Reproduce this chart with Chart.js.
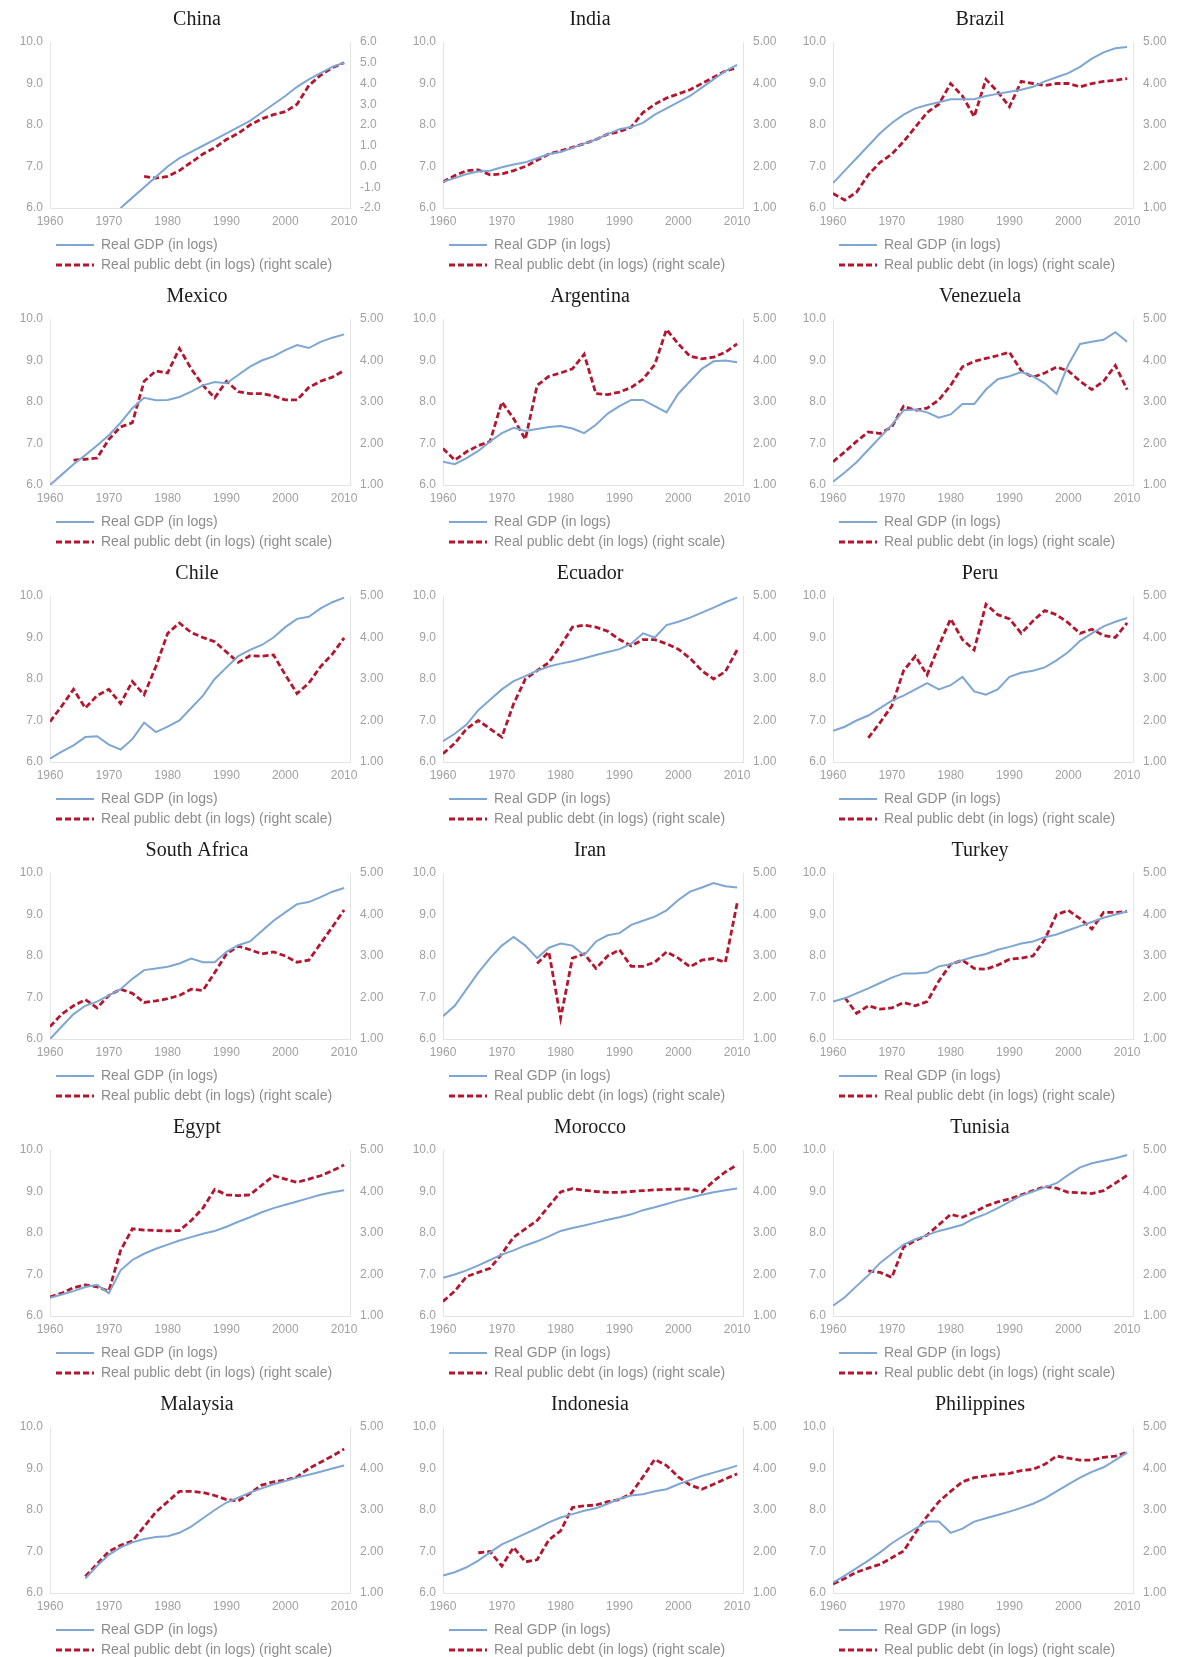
<!DOCTYPE html>
<html>
<head>
<meta charset="utf-8">
<script src="https://cdn.jsdelivr.net/npm/chart.js@4.4.1/dist/chart.umd.min.js"></script>
<style>
  html, body { margin: 0; padding: 0; background: #fff; }
  #page { position: relative; width: 1181px; height: 1657px; overflow: hidden; }
  .panel { position: absolute; width: 394px; height: 282px; }
</style>
</head>
<body>
<div id="page"></div>
<script>
const years = [1960, 1962, 1964, 1966, 1968, 1970, 1972, 1974, 1976, 1978, 1980, 1982, 1984,
  1986, 1988, 1990, 1992, 1994, 1996, 1998, 2000, 2002, 2004, 2006, 2008, 2010];
const yearTicks = [1960, 1970, 1980, 1990, 2000, 2010];
const leftTicks = [6, 7, 8, 9, 10];
const rightTicks = [1, 2, 3, 4, 5];
const chinaRightTicks = [-2, -1, 0, 1, 2, 3, 4, 5, 6];

const countries = ['China', 'India', 'Brazil', 'Mexico', 'Argentina', 'Venezuela',
  'Chile', 'Ecuador', 'Peru', 'South Africa', 'Iran', 'Turkey',
  'Egypt', 'Morocco', 'Tunisia', 'Malaysia', 'Indonesia', 'Philippines'];

const chinaGdp = [null, null, null, null, null, null, 6.0, 6.25, 6.5, 6.75, 7.0, 7.2, 7.35, 7.5, 7.65, 7.8, 7.95, 8.1, 8.3, 8.5, 8.7, 8.92, 9.1, 9.25, 9.4, 9.5];
const chinaDebt = [null, null, null, null, null, null, null, null, -0.48, -0.56, -0.48, -0.2, 0.2, 0.6, 0.9, 1.3, 1.6, 2.0, 2.3, 2.5, 2.64, 3.0, 3.9, 4.4, 4.76, 5.0];
const indiaGdp = [6.63, 6.72, 6.82, 6.88, 6.9, 6.98, 7.05, 7.1, 7.2, 7.3, 7.35, 7.45, 7.55, 7.65, 7.78, 7.9, 7.95, 8.05, 8.25, 8.4, 8.55, 8.7, 8.9, 9.1, 9.3, 9.45];
const indiaDebt = [1.63, 1.78, 1.9, 1.92, 1.8, 1.82, 1.9, 2.0, 2.15, 2.3, 2.38, 2.46, 2.55, 2.65, 2.78, 2.84, 2.95, 3.3, 3.5, 3.65, 3.75, 3.85, 4.0, 4.15, 4.3, 4.38];
const brazilGdp = [6.6, 6.9, 7.2, 7.5, 7.8, 8.05, 8.25, 8.4, 8.48, 8.55, 8.62, 8.62, 8.62, 8.7, 8.75, 8.8, 8.85, 8.92, 9.05, 9.15, 9.25, 9.4, 9.6, 9.75, 9.85, 9.88];
const brazilDebt = [1.35, 1.19, 1.38, 1.8, 2.1, 2.3, 2.6, 2.95, 3.3, 3.5, 4.0, 3.7, 3.2, 4.1, 3.8, 3.44, 4.05, 4.0, 3.95, 4.0, 4.0, 3.92, 4.0, 4.05, 4.08, 4.12];
const mexicoGdp = [6.0, 6.25, 6.5, 6.72, 6.95, 7.2, 7.5, 7.85, 8.1, 8.04, 8.05, 8.12, 8.25, 8.4, 8.48, 8.45, 8.65, 8.85, 9.0, 9.1, 9.25, 9.37, 9.3, 9.45, 9.55, 9.63];
const mexicoDebt = [null, null, 1.6, 1.62, 1.65, 2.1, 2.4, 2.5, 3.5, 3.75, 3.7, 4.29, 3.8, 3.4, 3.1, 3.5, 3.25, 3.2, 3.2, 3.15, 3.05, 3.05, 3.35, 3.5, 3.6, 3.76];
const argentinaGdp = [6.56, 6.5, 6.65, 6.82, 7.05, 7.25, 7.38, 7.3, 7.35, 7.4, 7.42, 7.36, 7.25, 7.45, 7.72, 7.9, 8.05, 8.05, 7.9, 7.75, 8.2, 8.5, 8.8, 8.98, 9.0, 8.96];
const argentinaDebt = [1.88, 1.6, 1.8, 1.95, 2.05, 3.0, 2.6, 2.1, 3.4, 3.62, 3.7, 3.8, 4.15, 3.2, 3.18, 3.24, 3.35, 3.55, 3.9, 4.75, 4.4, 4.1, 4.04, 4.08, 4.2, 4.4];
const venezuelaGdp = [6.08, 6.3, 6.55, 6.85, 7.15, 7.45, 7.8, 7.82, 7.75, 7.62, 7.7, 7.95, 7.95, 8.3, 8.55, 8.62, 8.72, 8.62, 8.45, 8.2, 8.9, 9.4, 9.45, 9.5, 9.68, 9.45];
const venezuelaDebt = [1.56, 1.8, 2.05, 2.28, 2.24, 2.4, 2.9, 2.8, 2.85, 3.05, 3.4, 3.85, 3.98, 4.05, 4.12, 4.2, 3.75, 3.6, 3.7, 3.84, 3.75, 3.5, 3.3, 3.5, 3.88, 3.3];
const chileGdp = [6.08, 6.25, 6.4, 6.6, 6.62, 6.42, 6.3, 6.55, 6.95, 6.72, 6.85, 7.0, 7.3, 7.6, 8.0, 8.28, 8.55, 8.7, 8.82, 9.0, 9.25, 9.45, 9.5, 9.7, 9.85, 9.96];
const chileDebt = [1.97, 2.35, 2.75, 2.3, 2.6, 2.75, 2.41, 2.94, 2.62, 3.3, 4.1, 4.35, 4.12, 4.0, 3.9, 3.65, 3.4, 3.56, 3.55, 3.58, 3.1, 2.65, 2.9, 3.3, 3.6, 3.99];
const ecuadorGdp = [6.5, 6.68, 6.9, 7.25, 7.5, 7.75, 7.95, 8.07, 8.2, 8.3, 8.37, 8.43, 8.5, 8.58, 8.65, 8.72, 8.85, 9.1, 9.0, 9.3, 9.38, 9.48, 9.6, 9.72, 9.85, 9.96];
const ecuadorDebt = [1.2, 1.45, 1.8, 2.0, 1.8, 1.6, 2.4, 3.0, 3.2, 3.4, 3.8, 4.25, 4.3, 4.25, 4.15, 3.95, 3.8, 3.95, 3.95, 3.85, 3.72, 3.5, 3.2, 3.0, 3.18, 3.7];
const peruGdp = [6.75, 6.85, 7.0, 7.12, 7.3, 7.48, 7.6, 7.75, 7.9, 7.75, 7.85, 8.05, 7.7, 7.62, 7.75, 8.05, 8.15, 8.2, 8.28, 8.45, 8.65, 8.92, 9.1, 9.27, 9.38, 9.47];
const peruDebt = [null, null, null, 1.58, 1.95, 2.35, 3.2, 3.55, 3.1, 3.8, 4.45, 3.95, 3.7, 4.8, 4.55, 4.45, 4.1, 4.4, 4.65, 4.55, 4.35, 4.1, 4.2, 4.05, 4.0, 4.35];
const southAfricaGdp = [6.0, 6.3, 6.6, 6.8, 6.9, 7.05, 7.2, 7.45, 7.66, 7.7, 7.74, 7.82, 7.94, 7.85, 7.85, 8.1, 8.26, 8.35, 8.6, 8.85, 9.05, 9.25, 9.3, 9.42, 9.55, 9.64];
const southAfricaDebt = [1.3, 1.6, 1.8, 1.95, 1.75, 2.05, 2.2, 2.1, 1.88, 1.92, 1.97, 2.05, 2.2, 2.17, 2.6, 3.05, 3.24, 3.15, 3.05, 3.1, 3.0, 2.85, 2.9, 3.3, 3.7, 4.11];
const iranGdp = [6.55, 6.8, 7.2, 7.6, 7.95, 8.25, 8.46, 8.25, 7.95, 8.2, 8.3, 8.25, 8.02, 8.35, 8.5, 8.55, 8.75, 8.85, 8.95, 9.1, 9.35, 9.55, 9.65, 9.76, 9.68, 9.65];
const iranDebt = [null, null, null, null, null, null, null, null, 2.82, 3.1, 1.5, 2.95, 3.05, 2.7, 3.0, 3.15, 2.75, 2.75, 2.85, 3.1, 2.95, 2.74, 2.9, 2.94, 2.85, 4.27];
const turkeyGdp = [6.9, 6.98, 7.1, 7.22, 7.35, 7.48, 7.58, 7.58, 7.6, 7.75, 7.8, 7.9, 7.98, 8.05, 8.15, 8.22, 8.3, 8.35, 8.45, 8.52, 8.62, 8.72, 8.82, 8.92, 9.0, 9.07];
const turkeyDebt = [null, 2.0, 1.62, 1.8, 1.72, 1.75, 1.88, 1.8, 1.9, 2.4, 2.8, 2.9, 2.7, 2.68, 2.78, 2.92, 2.95, 3.0, 3.4, 4.0, 4.1, 3.9, 3.65, 4.05, 4.05, 4.07];
const egyptGdp = [6.44, 6.52, 6.6, 6.7, 6.75, 6.55, 7.1, 7.35, 7.5, 7.62, 7.72, 7.82, 7.9, 7.98, 8.05, 8.15, 8.27, 8.38, 8.5, 8.6, 8.68, 8.76, 8.84, 8.92, 8.98, 9.03];
const egyptDebt = [1.46, 1.55, 1.68, 1.75, 1.7, 1.6, 2.58, 3.1, 3.07, 3.06, 3.05, 3.06, 3.3, 3.6, 4.05, 3.92, 3.9, 3.92, 4.15, 4.38, 4.3, 4.22, 4.3, 4.38, 4.5, 4.64];
const moroccoGdp = [6.92, 7.0, 7.1, 7.22, 7.35, 7.48, 7.58, 7.7, 7.8, 7.92, 8.05, 8.12, 8.18, 8.25, 8.32, 8.38, 8.45, 8.55, 8.62, 8.7, 8.78, 8.85, 8.92, 8.98, 9.03, 9.07];
const moroccoDebt = [1.35, 1.6, 1.95, 2.05, 2.15, 2.5, 2.9, 3.1, 3.3, 3.65, 3.99, 4.07, 4.03, 4.0, 3.98, 3.98, 4.0, 4.02, 4.04, 4.05, 4.06, 4.06, 3.99, 4.25, 4.47, 4.64];
const tunisiaGdp = [6.25, 6.45, 6.72, 6.98, 7.28, 7.5, 7.72, 7.85, 7.95, 8.05, 8.12, 8.2, 8.35, 8.46, 8.6, 8.75, 8.9, 9.0, 9.1, 9.2, 9.4, 9.58, 9.68, 9.74, 9.8, 9.88];
const tunisiaDebt = [null, null, null, 2.09, 2.05, 1.93, 2.66, 2.82, 2.95, 3.2, 3.45, 3.38, 3.5, 3.65, 3.75, 3.82, 3.92, 4.02, 4.12, 4.08, 3.98, 3.97, 3.95, 4.02, 4.2, 4.39];
const malaysiaGdp = [null, null, null, 6.35, 6.65, 6.92, 7.1, 7.22, 7.3, 7.35, 7.37, 7.45, 7.6, 7.8, 8.0, 8.18, 8.3, 8.42, 8.52, 8.62, 8.7, 8.78, 8.85, 8.92, 9.0, 9.07];
const malaysiaDebt = [null, null, null, 1.4, 1.7, 2.0, 2.15, 2.25, 2.6, 2.95, 3.2, 3.45, 3.45, 3.42, 3.35, 3.25, 3.22, 3.4, 3.6, 3.68, 3.72, 3.8, 4.0, 4.15, 4.3, 4.47];
const indonesiaGdp = [6.42, 6.5, 6.62, 6.78, 6.98, 7.17, 7.3, 7.43, 7.56, 7.7, 7.82, 7.9, 7.98, 8.04, 8.15, 8.27, 8.35, 8.38, 8.45, 8.5, 8.62, 8.72, 8.82, 8.9, 8.98, 9.07];
const indonesiaDebt = [null, null, null, 1.97, 2.0, 1.65, 2.1, 1.75, 1.8, 2.28, 2.5, 3.06, 3.1, 3.12, 3.2, 3.25, 3.4, 3.8, 4.22, 4.07, 3.8, 3.6, 3.5, 3.62, 3.75, 3.87];
const philippinesGdp = [6.25, 6.42, 6.6, 6.78, 6.98, 7.2, 7.38, 7.55, 7.72, 7.72, 7.45, 7.55, 7.72, 7.8, 7.88, 7.96, 8.05, 8.15, 8.28, 8.45, 8.62, 8.78, 8.92, 9.03, 9.2, 9.39];
const philippinesDebt = [1.22, 1.35, 1.5, 1.6, 1.69, 1.85, 2.01, 2.45, 2.85, 3.2, 3.45, 3.68, 3.78, 3.82, 3.86, 3.88, 3.95, 3.98, 4.1, 4.3, 4.25, 4.2, 4.2, 4.27, 4.3, 4.39];

const gdpSeries = [chinaGdp, indiaGdp, brazilGdp, mexicoGdp, argentinaGdp, venezuelaGdp,
  chileGdp, ecuadorGdp, peruGdp, southAfricaGdp, iranGdp, turkeyGdp,
  egyptGdp, moroccoGdp, tunisiaGdp, malaysiaGdp, indonesiaGdp, philippinesGdp];
const debtSeries = [chinaDebt, indiaDebt, brazilDebt, mexicoDebt, argentinaDebt, venezuelaDebt,
  chileDebt, ecuadorDebt, peruDebt, southAfricaDebt, iranDebt, turkeyDebt,
  egyptDebt, moroccoDebt, tunisiaDebt, malaysiaDebt, indonesiaDebt, philippinesDebt];

const page = document.getElementById('page');
const colLeft = [0, 393, 783];
const tickFont = { family: 'Liberation Sans', size: 12 };
const tickColor = '#a0a0a0';
const axisLine = { display: true, color: '#e4e4e4' };

function points(vals) {
  return years.map((yr, k) => ({ x: yr, y: vals[k] }));
}

// legend samples: take dash + width from the dataset line, not the point
function legendItems(chart) {
  const base = Chart.defaults.plugins.legend.labels.generateLabels(chart);
  return base.map((item, k) => {
    const ds = chart.data.datasets[k];
    return Object.assign(item, { lineDash: ds.borderDash || [], lineWidth: ds.borderWidth, strokeStyle: ds.borderColor });
  });
}

countries.forEach((name, i) => {
  const box = document.createElement('div');
  box.className = 'panel';
  box.style.left = colLeft[i % 3] + 'px';
  box.style.top = Math.floor(i / 3) * 277 + 'px';
  const canvas = document.createElement('canvas');
  canvas.width = 394;
  canvas.height = 282;
  box.appendChild(canvas);
  page.appendChild(box);

  const rTicks = name === 'China' ? chinaRightTicks : rightTicks;
  const rDigits = name === 'China' ? 1 : 2;

  new Chart(canvas, {
    type: 'line',
    data: {
      datasets: [{
        label: 'Real GDP (in logs)',
        data: points(gdpSeries[i]),
        yAxisID: 'yL',
        borderColor: '#7ea6d3',
        borderWidth: 2,
        pointRadius: 0
      }, {
        label: 'Real public debt (in logs) (right scale)',
        data: points(debtSeries[i]),
        yAxisID: 'yR',
        borderColor: '#b3172f',
        borderWidth: 2.8,
        borderDash: [6, 3],
        pointRadius: 0
      }]
    },
    options: {
      responsive: false,
      animation: false,
      devicePixelRatio: 1,
      layout: { padding: { top: 3, bottom: 0, left: 0, right: 0 } },
      scales: {
        x: {
          type: 'linear',
          min: 1960,
          max: 2011,
          grid: { display: false, drawTicks: false },
          border: axisLine,
          afterBuildTicks: s => { s.ticks = yearTicks.map(v => ({ value: v })); },
          afterFit: s => { s.height = 24; },
          ticks: { padding: 6, color: tickColor, font: tickFont, maxRotation: 0, callback: v => String(v) }
        },
        yL: {
          position: 'left',
          min: leftTicks[0],
          max: leftTicks[leftTicks.length - 1],
          grid: { display: false, drawTicks: false },
          border: axisLine,
          afterBuildTicks: s => { s.ticks = leftTicks.map(v => ({ value: v })); },
          afterFit: s => { s.width = 50; },
          ticks: { padding: 7, color: tickColor, font: tickFont, callback: v => v.toFixed(1) }
        },
        yR: {
          position: 'right',
          min: rTicks[0],
          max: rTicks[rTicks.length - 1],
          grid: { display: false, drawTicks: false },
          border: axisLine,
          afterBuildTicks: s => { s.ticks = rTicks.map(v => ({ value: v })); },
          afterFit: s => { s.width = 44; },
          ticks: { padding: 10, color: tickColor, font: tickFont, callback: v => v.toFixed(rDigits) }
        }
      },
      plugins: {
        title: {
          display: true,
          text: name,
          color: '#1a1a1a',
          font: { family: 'Liberation Serif', size: 20, weight: 'normal' },
          padding: { top: 5, bottom: 10 }
        },
        legend: {
          position: 'bottom',
          align: 'start',
          fullSize: false,
          labels: {
            usePointStyle: true,
            pointStyle: 'line',
            pointStyleWidth: 38,
            padding: 6,
            color: '#8c8c8c',
            font: { family: 'Liberation Sans', size: 14 },
            generateLabels: legendItems
          }
        },
        tooltip: { enabled: false }
      }
    }
  });
});
</script>
</body>
</html>
